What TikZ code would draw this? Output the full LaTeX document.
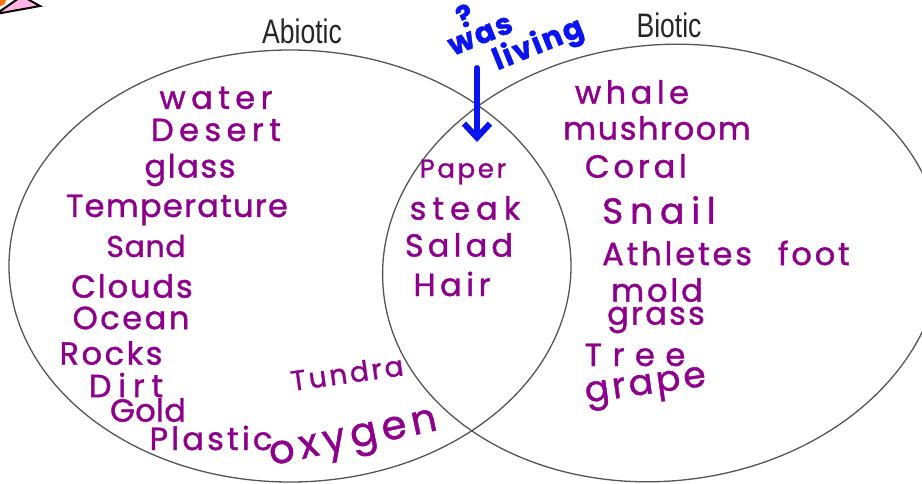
\documentclass[tikz,border=0pt]{standalone}
\usepackage{fontspec}
\setmainfont{Poppins}
\newfontfamily\handfont[FakeBold=1.2]{Poppins}
\newfontfamily\tagfont[FakeStretch=0.78]{Liberation Sans}
\usepackage{xcolor}
\usetikzlibrary{arrows.meta}

\definecolor{inkpurple}{RGB}{140,0,140}
\definecolor{inkblue}{RGB}{10,20,240}
\definecolor{rimgray}{RGB}{85,85,85}

\begin{document}
\begin{tikzpicture}[
    x=1pt, y=-1pt,
    rim/.style={draw=rimgray, line width=1.3pt},
    word/.style 2 args={text=inkpurple, inner sep=0pt,
        font=\handfont\fontsize{#1}{#1}\selectfont\addfontfeature{LetterSpace=#2}},
    settag/.style={inner sep=0pt, text=black!85, font=\tagfont\fontsize{34}{34}\selectfont},
    note/.style={inner sep=0pt, text=inkblue, align=left,
        font=\handfont\bfseries\fontsize{30}{30}\selectfont\addfontfeature{LetterSpace=6}},
    pointer/.style={-{Straight Barb[length=14pt, width=26pt, line width=6pt]}, draw=inkblue, line width=6pt, line cap=round},
]
\useasboundingbox (0,0) rectangle (922,484);
\clip (0,0) rectangle (922,484);

% corner scrap
\fill[orange!90!red] (0,0) circle (6);
\draw[fill=pink!70!magenta!60, line width=2pt] (-4,14) -- (40,6) -- (22,-4) -- cycle;

% the two sets
\draw[rim] (290,266) ellipse [x radius=281, y radius=216];
\draw[rim, rotate around={6:(662,263)}] (662,263) ellipse [x radius=280, y radius=218];

\node[settag] (abiotic) at (302,31) {Abiotic};
\node[settag] (biotic) at (669,25) {Biotic};

% abiotic side
\node[word={32}{17}] (water) at (216,98) {water};
\node[word={32}{17}] (desert) at (216,130) {Desert};
\node[word={32}{5}] (glass) at (190,170) {glass};
\node[word={32}{4}] (temp) at (177,210) {Temperature};
\node[word={30}{2}] (sand) at (146,246) {Sand};
\node[word={32}{6}] (clouds) at (132,286) {Clouds};
\node[word={32}{8}] (ocean) at (131,318) {Ocean};
\node[word={32}{8}] (rocks) at (111,353) {Rocks};
\node[word={32}{21}] (dirt) at (126,385) {Dirt};
\node[word={32}{1}] (gold) at (148,410) {Gold};
\node[word={32}{10}] (plastic) at (211,438) {Plastic};
\node[word={28}{10}, rotate=8] (tundra) at (347,373) {Tundra};
\node[word={40}{13}, rotate=12] (oxygen) at (354,442) {oxygen};

% overlap
\node[word={26}{10}] (paper) at (463,172) {Paper};
\node[word={32}{19}] (steak) at (465,208) {steak};
\node[word={32}{13}] (salad) at (459,245) {Salad};
\node[word={32}{14}] (hair) at (452,284) {Hair};

% biotic side
\node[word={32}{14}] (whale) at (632,92) {whale};
\node[word={32}{5}] (mushroom) at (657,128) {mushroom};
\node[word={32}{12}] (coral) at (636,166) {Coral};
\node[word={36}{19}] (snail) at (659,210) {Snail};
\node[word={32}{9}] (athletes) at (726,253) {Athletes\hspace{26pt}foot};
\node[word={32}{9}] (mold) at (657,290) {mold};
\node[word={32}{7}] (grass) at (656,320) {grass};
\node[word={32}{33}] (tree) at (635,355) {Tree};
\node[word={36}{9}, rotate=8] (grape) at (646,389) {grape};

% question
\node[note, rotate=22, anchor=base west] (question) at (464,84)
    {\hspace{18pt}?\\[-8pt]was\\[0pt]\hspace{36pt}living};
\coordinate (tail) at (477,68);
\coordinate (tip) at (477,142);
\draw[pointer] (tail) -- (tip);
\end{tikzpicture}
\end{document}
